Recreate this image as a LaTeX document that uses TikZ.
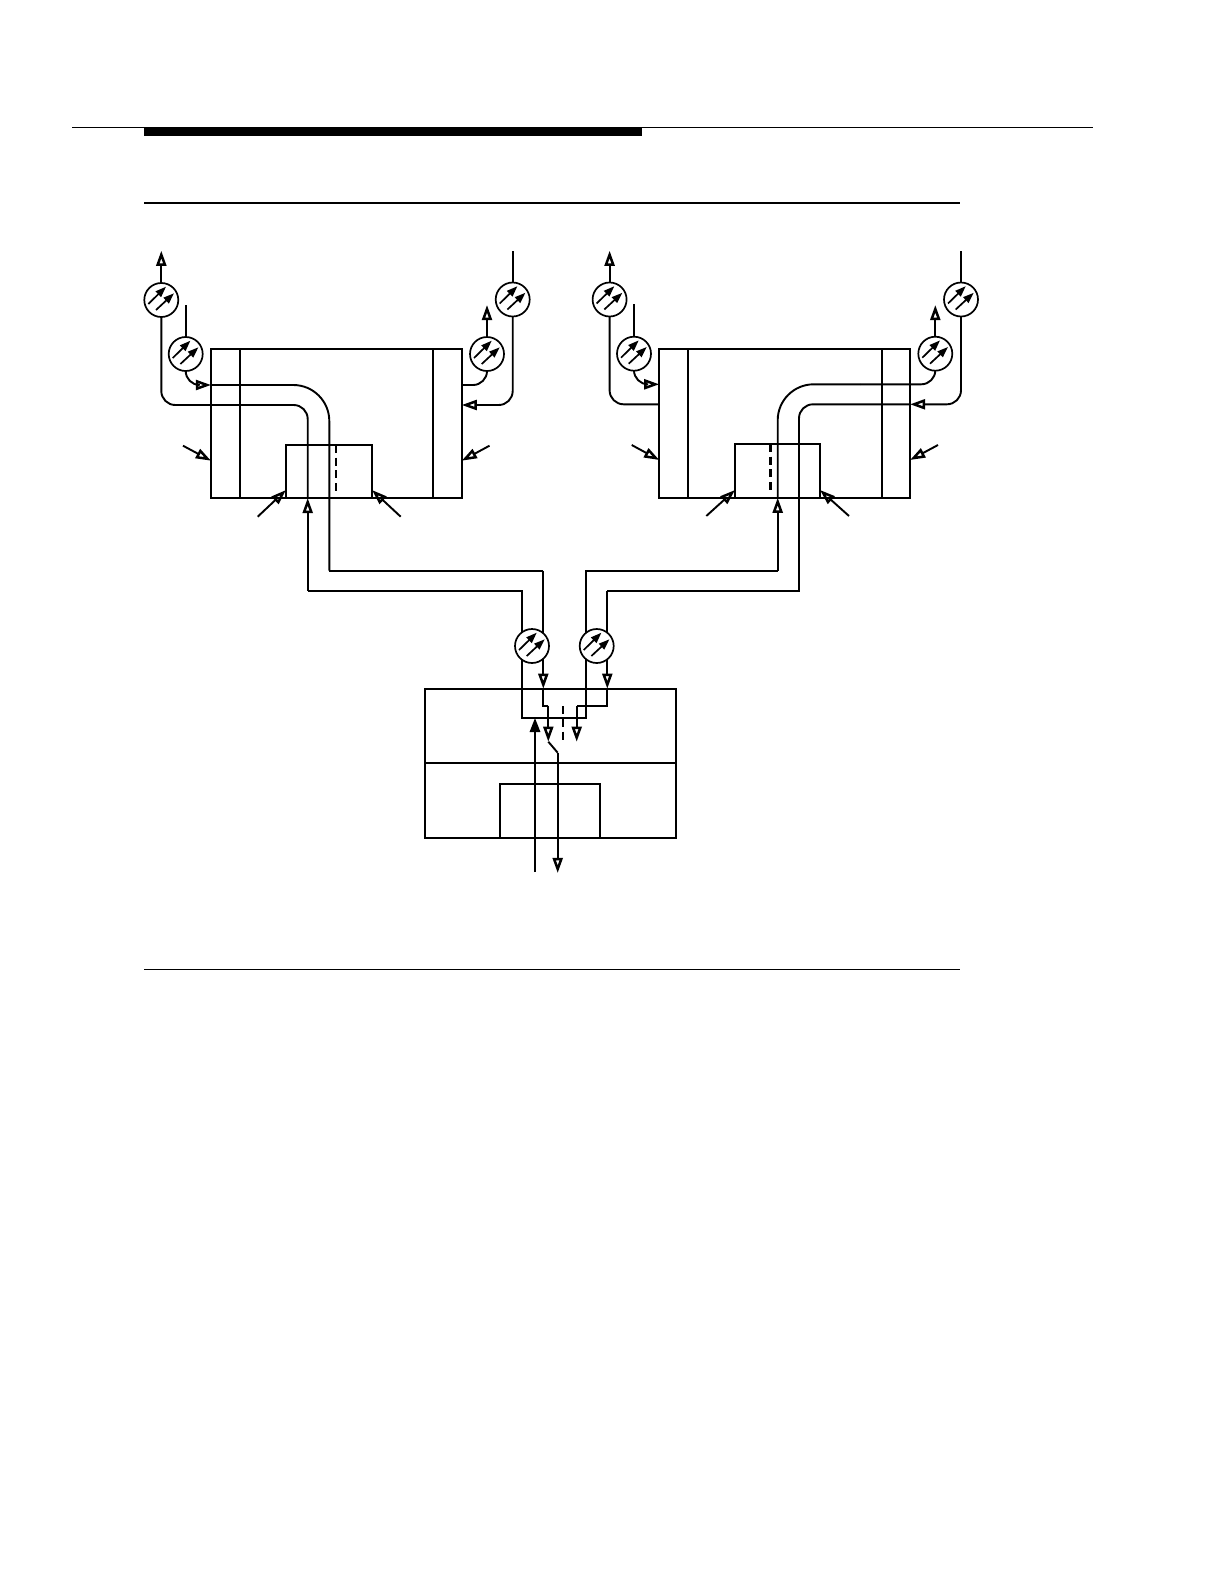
\documentclass[tikz,border=0pt]{standalone}
\usepackage{tikz}
\usetikzlibrary{arrows.meta}
\usetikzlibrary{positioning}
\tikzset{
    pipe/.style={line width=.95bp,>={Triangle[open,length=7.6bp,width=5bp,line width=1.25bp]}},
    panel/.style={draw,line width=.95bp,inner sep=0pt,outer sep=0pt},
    gauge/.style={circle,draw,fill=white,line width=.85bp,minimum size=17bp,inner sep=0pt,outer sep=0pt},
    needle/.style={line width=.85bp,-{Triangle[length=5.4bp,width=3.8bp]}},
    solidpipe/.style={line width=.95bp,-{Triangle[length=7bp,width=5.2bp]}}
}
\newcommand{\gauge}[3]{\node[gauge] (#1) at (#2,#3) {};
    \draw[needle] ([shift={(-13,4)}]#1.center) -- ([shift={(4.7,-13.3)}]#1.center);
    \draw[needle] ([shift={(-5.3,10)}]#1.center) -- ([shift={(12.7,-6.7)}]#1.center)}
\newcommand{\feed}[3]{\coordinate (#1) at (#2); \draw[pipe,->] (#1) -- (#3)}
\begin{document}
\begin{tikzpicture}[x=.5bp,y=-.5bp]
    \useasboundingbox (0,0) rectangle (1224,1584);
    \draw [line width=.5bp] (72,127.3) -- (1092.7,127.3);
    \fill (144,127) rectangle (642.3,136);
    \draw [line width=.9bp] (144,203) -- (959.6,203);
    \draw [line width=.5bp] (144,969.5) -- (959.6,969.5);

    \node[panel,minimum width=125.35bp,minimum height=74.5bp] (lbox) at (336.35,423.5) {};
    \node[panel,minimum width=43bp,minimum height=26.65bp] (lcore) at (329,471.35) {};
    \node[panel,minimum width=125.35bp,minimum height=74.5bp] (rbox) at (784.65,423.2) {};
    \node[panel,minimum width=42.5bp,minimum height=27bp] (rcore) at (777.5,470.7) {};
    \node[panel,minimum width=125.3bp,minimum height=74.65bp] (bbox) at (550.3,763.35) {};
    \node[panel,minimum width=50.15bp,minimum height=27.15bp] (bcore) at (550.15,810.85) {};
    \draw [pipe] (239.7,0 |- lbox.north) -- (239.7,0 |- lbox.south);
    \draw [pipe] (433,0 |- lbox.north) -- (433,0 |- lbox.south);
    \draw [pipe] (688,0 |- rbox.north) -- (688,0 |- rbox.south);
    \draw [pipe] (881.7,0 |- rbox.north) -- (881.7,0 |- rbox.south);
    \draw [pipe] (bbox.west |- 0,763.3) -- (bbox.east |- 0,763.3);

    \gauge{ma}{161.3}{300};
    \gauge{mb}{185.7}{354};
    \gauge{mc}{487}{354};
    \gauge{md}{512.7}{299.5};
    \gauge{me}{609.6}{299.5};
    \gauge{mf}{634}{353.7};
    \gauge{mg}{935.3}{353.7};
    \gauge{mh}{961}{299.5};

    \coordinate (matop) at (161.3,250.7);
    \coordinate (mbtop) at (185.7,305);
    \coordinate (mctop) at (487,305);
    \coordinate (mdtop) at (512.7,250.7);
    \coordinate (metop) at (609.6,250.7);
    \coordinate (mftop) at (634,304);
    \coordinate (mgtop) at (935.3,305);
    \coordinate (mhtop) at (961,250.7);
    \draw [pipe,->] (ma.north) -- (matop);
    \draw [pipe] (mb.north) -- (mbtop);
    \draw [pipe,->] (mc.north) -- (mctop);
    \draw [pipe] (md.north) -- (mdtop);
    \draw [pipe,->] (me.north) -- (metop);
    \draw [pipe] (mf.north) -- (mftop);
    \draw [pipe,->] (mg.north) -- (mgtop);
    \draw [pipe] (mh.north) -- (mhtop);

    \coordinate (lin) at (307.7,405);
    \coordinate (lout) at (329.3,385);
    \coordinate (rin) at (799,404.3);
    \coordinate (rout) at (777.7,384.3);
    \coordinate (rmid) at (860,384.3);
    \coordinate (lfoot) at (307.7,590.8);
    \coordinate (lhead) at (329.3,570.6);
    \coordinate (rfoot) at (799,590.8);
    \coordinate (rhead) at (777.7,570.6);
    \coordinate (ia) at (521.7,590.8);
    \coordinate (ib) at (543.3,570.6);
    \coordinate (ic) at (586.3,570.6);
    \coordinate (id) at (607.3,590.8);
    \coordinate (ja) at (521.7,718);
    \coordinate (jc) at (586.3,718);
    \coordinate (ke) at (543.3,705.7);
    \coordinate (kf) at (548.3,705.7);
    \coordinate (kg) at (607.3,705.7);
    \coordinate (kh) at (576.7,705.7);
    \coordinate (tipa) at (548.3,741.7);
    \coordinate (tipb) at (576.7,741.7);
    \coordinate (bend) at (557.7,752.7);
    \coordinate (outtip) at (557.7,873);
    \coordinate (inend) at (535,872);
    \coordinate (intip) at (535,718);

    \draw [pipe,rounded corners=7bp] (ma.south) |- (lin) -- (lin |- lbox.south);
    \draw [pipe,->,rounded corners=7bp] (mb.south) |- (lbox.west |- lout);
    \draw [pipe,rounded corners=18bp] (lbox.west |- lout) -- (lout) -- (lhead);
    \draw [pipe] (lhead) -- (ib);
    \draw [pipe,rounded corners=7bp] (mc.south) |- (lbox.east |- lout);
    \draw [pipe,->,rounded corners=7bp] (md.south) |- (lbox.east |- lin);
    \draw [pipe,->] (lfoot) -- (lfoot |- lbox.south);
    \draw [pipe] (lfoot) -- (ia) -- (ja) -- (jc) -- (ic) -- (rhead);
    \draw [pipe,->] (rhead) -- (rhead |- rbox.south);
    \draw [pipe,rounded corners=18bp] (rhead |- rbox.south) -- (rout) -- (rmid);
    \draw [pipe,rounded corners=7bp] (rmid) -| (mg.south);
    \draw [pipe,rounded corners=7bp] (me.south) |- (rbox.west |- rin);
    \draw [pipe,->,rounded corners=7bp] (mf.south) |- (rbox.west |- rout);
    \draw [pipe,->,rounded corners=7bp] (mh.south) |- (rbox.east |- rin);
    \draw [pipe,rounded corners=7bp] (rbox.east |- rin) -- (rin) -- (rfoot |- rcore.south);
    \draw [pipe] (rfoot |- rcore.south) -- (rfoot) -- (id);
    \draw [pipe,->] (id) -- (id |- bbox.north);
    \draw [pipe] (id |- bbox.north) -- (kg) -- (kh);
    \draw [pipe,->] (kh) -- (tipb);
    \draw [pipe,->] (ib) -- (ib |- bbox.north);
    \draw [pipe] (ib |- bbox.north) -- (ke) -- (kf);
    \draw [pipe,->] (kf) -- (tipa);
    \draw [pipe] (tipa) -- (bend);
    \draw [pipe,->] (bend) -- (outtip);
    \draw [solidpipe] (inend) -- (intip);

    \draw [pipe,dash pattern=on 4bp off 2.4bp] (336,0 |- lcore.north) -- (336,494);
    \draw [pipe,line width=1.4bp,dash pattern=on 4bp off 2.4bp] (770.3,0 |- rcore.north) -- (770.3,494);
    \draw [pipe,dash pattern=on 4bp off 2.4bp] (563,706) -- (563,742);

    \feed{la}{183,445.7}{lbox.west |- 0,460.7};
    \feed{lb}{489.5,445.7}{lbox.east |- 0,460.7};
    \feed{lc}{257.7,516.7}{lcore.west |- 0,490};
    \feed{ld}{400.7,516.7}{lcore.east |- 0,490};
    \feed{ra}{631.7,445}{rbox.west |- 0,460};
    \feed{rb}{938,445}{rbox.east |- 0,460};
    \feed{rc}{706.3,516}{rcore.west |- 0,490};
    \feed{rd}{849,516}{rcore.east |- 0,490};

    \gauge{mi}{532}{646};
    \gauge{mj}{596.7}{646};
\end{tikzpicture}
\end{document}
